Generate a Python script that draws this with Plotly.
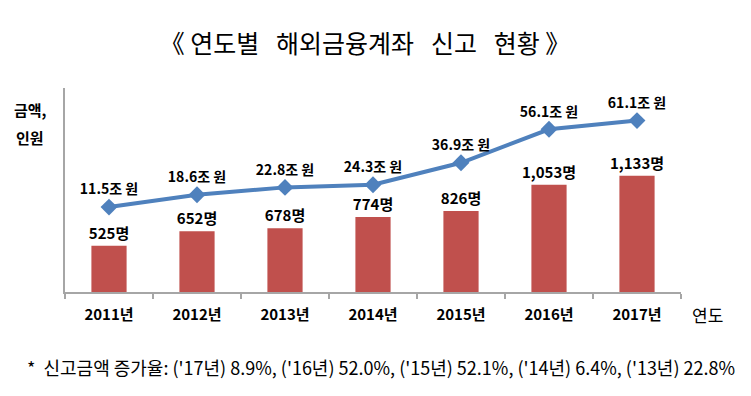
import plotly.graph_objects as go

years = ["2011년", "2012년", "2013년", "2014년", "2015년", "2016년", "2017년"]
persons = [525, 652, 678, 774, 826, 1053, 1133]
amounts = [11.5, 18.6, 22.8, 24.3, 36.9, 56.1, 61.1]
title_words = ["연도별", "해외금융계좌", "신고", "현황"]
footnote = "*  신고금액 증가율: ('17년) 8.9%, ('16년) 52.0%, ('15년) 52.1%, ('14년) 6.4%, ('13년) 22.8%"

W, H = 751, 396
L, R, T, B = 65, 681, 88, 292
FONT = "Noto Sans CJK KR"

def px(x):
    return (x - L) / (R - L)

def py(y):
    return (B - y) / (B - T)

fig = go.Figure()
fig.add_trace(go.Bar(
    x=years, y=persons,
    marker=dict(color="#C0504D", line=dict(width=0)),
    text=[f"<b>{v:,}명</b>" for v in persons],
    textposition="outside",
    constraintext="none",
    textfont=dict(family=FONT, size=15, color="#000000"),
    cliponaxis=False,
    yaxis="y",
    showlegend=False,
))
fig.add_trace(go.Scatter(
    x=years, y=amounts,
    mode="lines+markers+text",
    line=dict(color="#4F81BD", width=4),
    marker=dict(symbol="diamond", size=13, color="#4F81BD"),
    text=[f"<b>{v}조 원</b>" for v in amounts],
    textposition="top center",
    textfont=dict(family=FONT, size=14, color="#000000"),
    cliponaxis=False,
    yaxis="y2",
    showlegend=False,
))

nb = "\u00a0"
title_text = "《" + nb + (nb * 3).join(title_words) + nb + "》"
fig.update_layout(
    width=W, height=H, autosize=False,
    margin=dict(l=L, r=W - R, t=T, b=H - B, pad=0, autoexpand=False),
    paper_bgcolor="white", plot_bgcolor="white",
    bargap=0.6,
    font=dict(family=FONT, color="#000000"),
    title=dict(text=title_text, x=(158 + 572) / 2 / W, xanchor="center", y=1 - 44 / H, yanchor="middle",
               yref="container", font=dict(family=FONT, size=25, color="#000000")),
    xaxis=dict(
        type="category", showline=True, linecolor="#A6A6A6", linewidth=1.5,
        ticks="outside", tickson="boundaries", ticklen=5, tickcolor="#A6A6A6", tickwidth=1.5,
        tickfont=dict(family=FONT, size=15, color="#000000"),
        tickprefix="<b>", ticksuffix="</b>",
        ticklabelstandoff=8, automargin=False,
        showgrid=False, zeroline=False,
    ),
    yaxis=dict(
        range=[125, 1892], showline=True, linecolor="#A6A6A6", linewidth=1.5,
        showticklabels=False, ticks="", showgrid=False, zeroline=False, automargin=False,
    ),
    yaxis2=dict(
        range=[-37.2, 79.8], overlaying="y", side="right", showline=False,
        showticklabels=False, ticks="", showgrid=False, zeroline=False, automargin=False,
    ),
    annotations=[
        dict(text="<b>금액,</b>", x=px(30), y=py(110), xref="paper", yref="paper",
             showarrow=False, xanchor="center", yanchor="middle",
             font=dict(family=FONT, size=15, color="#000000")),
        dict(text="<b>인원</b>", x=px(30), y=py(137), xref="paper", yref="paper",
             showarrow=False, xanchor="center", yanchor="middle",
             font=dict(family=FONT, size=15, color="#000000")),
        dict(text="연도", x=px(707), y=py(314), xref="paper", yref="paper",
             showarrow=False, xanchor="center", yanchor="middle",
             font=dict(family=FONT, size=17, color="#000000")),
        dict(text=footnote, x=px(25), y=py(367), xref="paper", yref="paper",
             showarrow=False, xanchor="left", yanchor="middle",
             font=dict(family=FONT, size=18, color="#000000")),
    ],
)

fig.write_html("out.html", config={"displayModeBar": False},
               post_script="document.body.style.margin='0';document.body.style.overflow='hidden';")
